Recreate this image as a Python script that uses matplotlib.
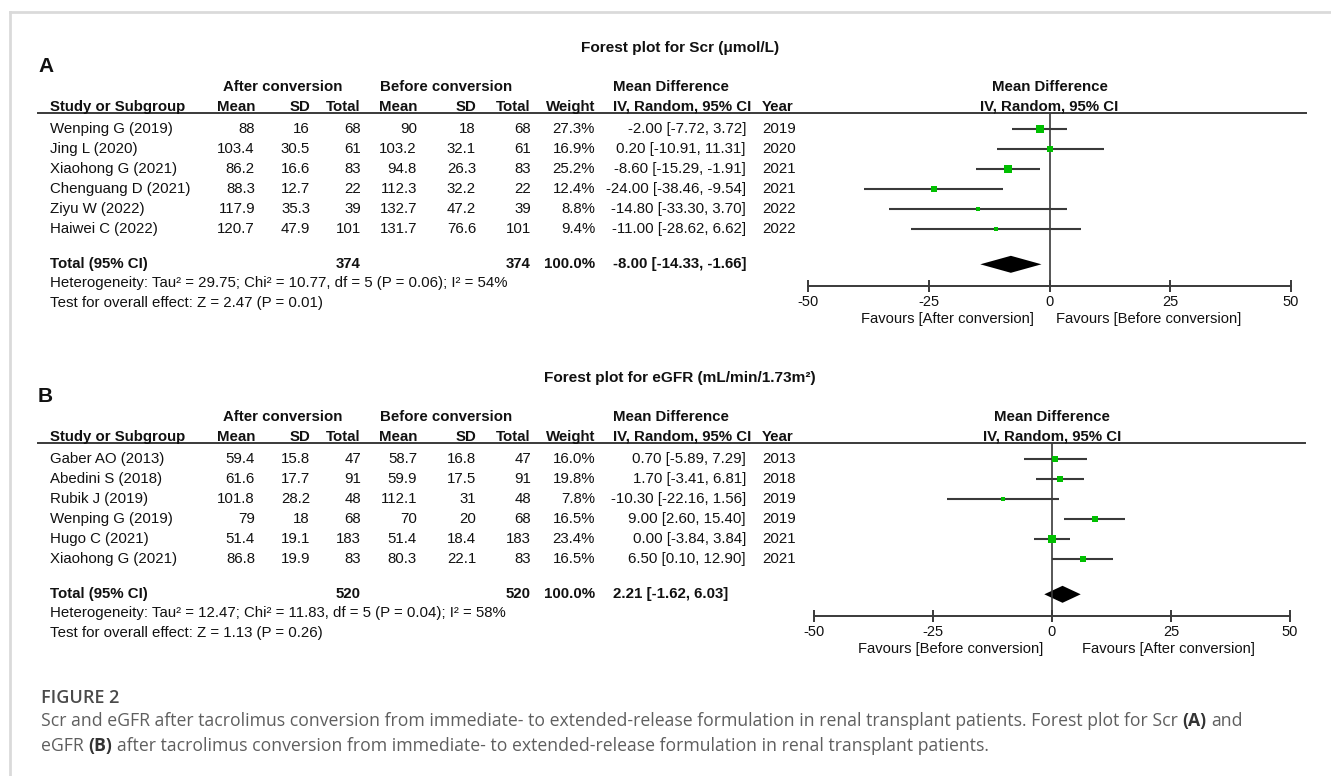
#forest plots for Scr and eGFR (figure 2)
import numpy as np
import matplotlib.pyplot as plt

plt.rcParams['font.family'] = ['Liberation Sans', 'DejaVu Sans']
plt.rcParams['axes.unicode_minus'] = False

#panel A - Scr
scr_study = ["Wenping G (2019)", "Jing L (2020)", "Xiaohong G (2021)",
             "Chenguang D (2021)", "Ziyu W (2022)", "Haiwei C (2022)"]
scr_after_mean = [88, 103.4, 86.2, 88.3, 117.9, 120.7]
scr_after_sd = [16, 30.5, 16.6, 12.7, 35.3, 47.9]
scr_after_n = [68, 61, 83, 22, 39, 101]
scr_before_mean = [90, 103.2, 94.8, 112.3, 132.7, 131.7]
scr_before_sd = [18, 32.1, 26.3, 32.2, 47.2, 76.6]
scr_before_n = [68, 61, 83, 22, 39, 101]
scr_weight = [27.3, 16.9, 25.2, 12.4, 8.8, 9.4]
scr_md = [-2.00, 0.20, -8.60, -24.00, -14.80, -11.00]
scr_lo = [-7.72, -10.91, -15.29, -38.46, -33.30, -28.62]
scr_hi = [3.72, 11.31, -1.91, -9.54, 3.70, 6.62]
scr_year = [2019, 2020, 2021, 2021, 2022, 2022]
scr_total = [374, 374, 100.0, -8.00, -14.33, -1.66]
scr_het = "Heterogeneity: Tau² = 29.75; Chi² = 10.77, df = 5 (P = 0.06); I² = 54%"
scr_test = "Test for overall effect: Z = 2.47 (P = 0.01)"
scr_fav = ["Favours [After conversion]", "Favours [Before conversion]"]

#panel B - eGFR
egfr_study = ["Gaber AO (2013)", "Abedini S (2018)", "Rubik J (2019)",
              "Wenping G (2019)", "Hugo C (2021)", "Xiaohong G (2021)"]
egfr_after_mean = [59.4, 61.6, 101.8, 79, 51.4, 86.8]
egfr_after_sd = [15.8, 17.7, 28.2, 18, 19.1, 19.9]
egfr_after_n = [47, 91, 48, 68, 183, 83]
egfr_before_mean = [58.7, 59.9, 112.1, 70, 51.4, 80.3]
egfr_before_sd = [16.8, 17.5, 31, 20, 18.4, 22.1]
egfr_before_n = [47, 91, 48, 68, 183, 83]
egfr_weight = [16.0, 19.8, 7.8, 16.5, 23.4, 16.5]
egfr_md = [0.70, 1.70, -10.30, 9.00, 0.00, 6.50]
egfr_lo = [-5.89, -3.41, -22.16, 2.60, -3.84, 0.10]
egfr_hi = [7.29, 6.81, 1.56, 15.40, 3.84, 12.90]
egfr_year = [2013, 2018, 2019, 2019, 2021, 2021]
egfr_total = [520, 520, 100.0, 2.21, -1.62, 6.03]
egfr_het = "Heterogeneity: Tau² = 12.47; Chi² = 11.83, df = 5 (P = 0.04); I² = 58%"
egfr_test = "Test for overall effect: Z = 1.13 (P = 0.26)"
egfr_fav = ["Favours [Before conversion]", "Favours [After conversion]"]

ticks = [-50, -25, 0, 25, 50]

W, H = 1331, 776
FS = 10.8
ROW0 = 129.3
PITCH = 20
INK = '#111111'
GREEN = '#00bf00'
LINE = '#3a3a3a'

fig = plt.figure(figsize=(W / 100, H / 100), dpi=100)
bg = fig.add_axes([0, 0, 1, 1])
bg.set_xlim(0, W)
bg.set_ylim(H, 0)
bg.axis('off')

#light frame of the figure box
bg.plot([10, 10], [12, H], color='#dadada', lw=2)
bg.plot([10, W], [12, 12], color='#dadada', lw=2)


def txt(x, y, s, ha='right', bold=False, size=FS):
    bg.text(x, y, s, ha=ha, va='center', fontsize=size, color=INK,
            fontweight='bold' if bold else 'normal')


def draw_panel(dy, letter, title, study, am, asd, an, bm, bsd, bn, w, md, lo, hi,
               yr, tot, het, test, fav, ax_x0, ax_x1, line_x1, fav_off):
    #right edges of the numeric columns
    cols = [255, 310, 361, 417, 476, 531]
    txt(38, 66 + dy, letter, ha='left', bold=True, size=15)
    txt(680, 48 + dy, title, ha='center', bold=True, size=11.1)
    txt(283, 87 + dy, "After conversion", ha='center', bold=True)
    txt(446, 87 + dy, "Before conversion", ha='center', bold=True)
    txt(613, 87 + dy, "Mean Difference", ha='left', bold=True)
    hy = 106.7 + dy
    txt(50, hy, "Study or Subgroup", ha='left', bold=True)
    for x, s in zip(cols, ["Mean", "SD", "Total", "Mean", "SD", "Total"]):
        txt(x, hy, s, bold=True)
    txt(595, hy, "Weight", bold=True)
    txt(613, hy, "IV, Random, 95% CI", ha='left', bold=True)
    txt(762, hy, "Year", ha='left', bold=True)
    bg.plot([38, line_x1], [113 + dy, 113 + dy], color=LINE, lw=1.4)

    for i in range(len(study)):
        y = ROW0 + i * PITCH + dy
        txt(50, y, study[i], ha='left')
        for x, v in zip(cols, [am[i], asd[i], an[i], bm[i], bsd[i], bn[i]]):
            txt(x, y, str(v))
        txt(595, y, f"{w[i]:.1f}%")
        txt(746, y, f"{md[i]:.2f} [{lo[i]:.2f}, {hi[i]:.2f}]")
        txt(762, y, str(yr[i]), ha='left')

    total_row = 6.75
    ty = ROW0 + total_row * PITCH + dy
    txt(50, ty, "Total (95% CI)", ha='left', bold=True)
    txt(cols[2], ty, str(tot[0]), bold=True)
    txt(cols[5], ty, str(tot[1]), bold=True)
    txt(595, ty, f"{tot[2]:.1f}%", bold=True)
    txt(613, ty, f"{tot[3]:.2f} [{tot[4]:.2f}, {tot[5]:.2f}]", ha='left', bold=True)
    txt(50, 283.3 + dy, het, ha='left')
    txt(50, 302.5 + dy, test, ha='left')

    #forest plot part
    top, bot = 113 + dy, 285.5 + dy
    ax = fig.add_axes([ax_x0 / W, 1 - bot / H, (ax_x1 - ax_x0) / W, (bot - top) / H])
    ax.set_xlim(-50, 50)
    ax.set_ylim((bot - dy - ROW0) / PITCH, (top - dy - ROW0) / PITCH)
    ax.patch.set_alpha(0)
    for s in ['top', 'left', 'right']:
        ax.spines[s].set_visible(False)
    ax.spines['bottom'].set_color(LINE)
    ax.spines['bottom'].set_linewidth(1.4)
    ax.set_yticks([])
    ax.set_xticks(ticks)
    ax.tick_params(axis='x', direction='inout', length=9, width=1.4, color=LINE,
                   pad=2, labelsize=10.5, labelcolor=INK)
    ax.axvline(0, color=LINE, lw=1.2)
    rows = np.arange(len(study))
    ax.hlines(rows, lo, hi, color=LINE, lw=1.5)
    for i in rows:
        side = 1.5 * np.sqrt(w[i]) * 0.72
        ax.plot(md[i], i, marker='s', ms=side, color=GREEN, mec=GREEN, mew=0)
    h = 0.425
    ax.fill([tot[4], tot[3], tot[5], tot[3]],
            [total_row, total_row - h, total_row, total_row + h], color='black', lw=0)

    zx = ax_x0 + (ax_x1 - ax_x0) / 2
    txt(zx, 87 + dy, "Mean Difference", ha='center', bold=True)
    txt(zx, hy, "IV, Random, 95% CI", ha='center', bold=True)
    txt(zx - fav_off[0], 319 + dy, fav[0], size=10.6)
    txt(zx + fav_off[1], 319 + dy, fav[1], ha='left', size=10.6)


draw_panel(0, "A", "Forest plot for Scr (μmol/L)", scr_study, scr_after_mean, scr_after_sd,
           scr_after_n, scr_before_mean, scr_before_sd, scr_before_n, scr_weight, scr_md,
           scr_lo, scr_hi, scr_year, scr_total, scr_het, scr_test, scr_fav, 808, 1291, 1306,
           (16, 6))
draw_panel(330, "B", "Forest plot for eGFR (mL/min/1.73m²)", egfr_study, egfr_after_mean,
           egfr_after_sd, egfr_after_n, egfr_before_mean, egfr_before_sd, egfr_before_n,
           egfr_weight, egfr_md, egfr_lo, egfr_hi, egfr_year, egfr_total, egfr_het,
           egfr_test, egfr_fav, 814, 1290, 1305, (9, 30))

#caption with bold panel letters
CAP = '#5f5f5f'
renderer = fig.canvas.get_renderer()


def cap_line(x, y, parts, size=12.7):
    sp = None
    for s, bold in parts:
        t = bg.text(x, y, s, ha='left', va='center', fontsize=size, family='Open Sans',
                    color='#333333' if bold else CAP,
                    fontweight='bold' if bold else 'normal')
        if sp is None:
            a = bg.text(0, 0, "x x", fontsize=size, family='Open Sans')
            b = bg.text(0, 0, "xx", fontsize=size, family='Open Sans')
            sp = a.get_window_extent(renderer).width - b.get_window_extent(renderer).width
            a.remove()
            b.remove()
        x += t.get_window_extent(renderer).width + sp


bg.text(41, 697.7, "FIGURE 2", ha='left', va='center', fontsize=13, family='Open Sans',
        fontweight='semibold', color='#4a4a4a')
cap_line(41, 721, [("Scr and eGFR after tacrolimus conversion from immediate- to extended-release "
                    "formulation in renal transplant patients. Forest plot for Scr", False),
                   ("(A)", True), ("and", False)])
cap_line(41, 746, [("eGFR", False), ("(B)", True),
                   ("after tacrolimus conversion from immediate- to extended-release formulation "
                    "in renal transplant patients.", False)])

fig.savefig("out.png", dpi=100)
